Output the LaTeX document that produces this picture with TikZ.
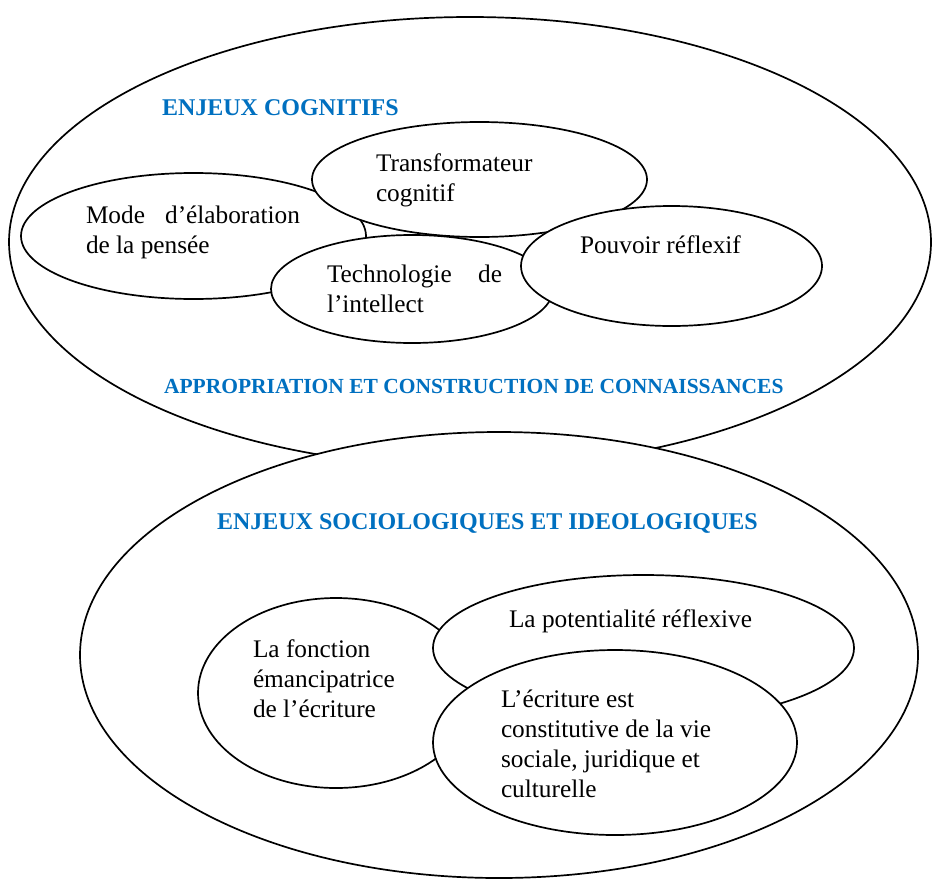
\documentclass[tikz,border=0pt]{standalone}
\usepackage{fontspec}
\setmainfont{Liberation Serif}
\usetikzlibrary{shapes.geometric}
\definecolor{headblue}{HTML}{0070C0}
\tikzset{
  ell/.style={ellipse, draw=black, fill=white, line width=1.7pt, inner sep=0pt, outer sep=0pt},
  txt/.style={anchor=base west, inner sep=0pt, outer sep=0pt, font=\fontsize{25.3}{30}\selectfont, text=black},
  head/.style={anchor=base west, inner sep=0pt, outer sep=0pt, font=\bfseries\fontsize{24}{28}\selectfont, text=headblue},
  headsmall/.style={head, font=\bfseries\fontsize{21.5}{26}\selectfont}
}
\begin{document}
\begin{tikzpicture}[x=1pt,y=-1pt]
\useasboundingbox[fill=white] (0,0) rectangle (933,878);
% upper big ellipse
\node[ell, minimum width=922pt, minimum height=450pt] (top) at (470,242) {};
\node[ell, minimum width=345pt, minimum height=126pt] (mode) at (193.5,236) {};
\node[ell, minimum width=335pt, minimum height=115pt] (trans) at (479.5,179.5) {};
\node[ell, minimum width=282pt, minimum height=108pt] (techno) at (412,289) {};
\node[ell, minimum width=301pt, minimum height=120pt] (pouvoir) at (671.5,266) {};
% lower big ellipse
\node[ell, minimum width=838pt, minimum height=446pt] (bottom) at (499,655) {};
\node[ell, minimum width=276pt, minimum height=190pt] (fonction) at (336,693) {};
\node[ell, minimum width=421pt, minimum height=146pt] (potent) at (643.5,648) {};
\node[ell, minimum width=364pt, minimum height=185pt] (ecrit) at (615,742.5) {};
% texts
\node[head] (h1) at (162,115) {ENJEUX COGNITIFS};
\node[txt] (t1) at (376,171) {\parbox[t]{200pt}{\raggedright Transformateur\\cognitif}};
\node[txt] (t2) at (86,223) {\parbox[t]{230pt}{\raggedright\makebox[214pt][s]{Mode d’élaboration}\\de la pensée}};
\node[txt] (t3) at (327,282) {\parbox[t]{200pt}{\raggedright\makebox[175pt][s]{Technologie de}\\l’intellect}};
\node[txt] (t4) at (580,253) {Pouvoir réflexif};
\node[headsmall] (h2) at (164,393) {APPROPRIATION ET CONSTRUCTION DE CONNAISSANCES};
\node[head] (h3) at (217,529) {ENJEUX SOCIOLOGIQUES ET IDEOLOGIQUES};
\node[txt] (t5) at (253,657) {\parbox[t]{200pt}{\raggedright La fonction\\émancipatrice\\de l’écriture}};
\node[txt] (t6) at (509,627) {La potentialité réflexive};
\node[txt] (t7) at (501,707) {\parbox[t]{260pt}{\raggedright L’écriture est\\constitutive de la vie\\sociale, juridique et\\culturelle}};
\end{tikzpicture}
\end{document}
